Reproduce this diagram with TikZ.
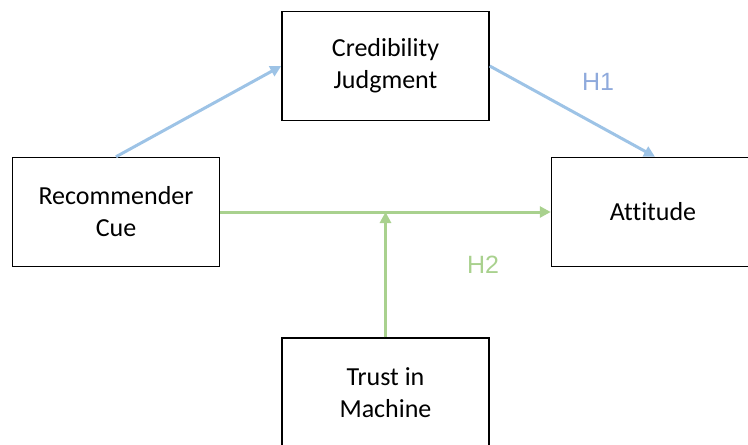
\documentclass[tikz,border=0pt]{standalone}
\usepackage{fontspec}
\setmainfont[Ligatures={NoCommon}]{Carlito}
\newfontfamily\arialfont{Liberation Sans}
\usetikzlibrary{arrows.meta}
\definecolor{arrowblue}{HTML}{9DC3E6}
\definecolor{labelblue}{HTML}{8FAADC}
\definecolor{arrowgreen}{HTML}{A9D18E}
\tikzset{
  box/.style={draw=black, line width=1.5pt, fill=white, minimum width=207pt,
    minimum height=109pt, align=center, inner sep=0pt,
    font=\fontsize{26}{32}\selectfont},
  bluearrow/.style={draw=arrowblue, line width=3pt,
    -{Triangle[length=11pt,width=11pt]}},
  greenarrow/.style={draw=arrowgreen, line width=3pt,
    -{Triangle[length=11pt,width=11pt]}},
  hlabel/.style={font=\arialfont\fontsize{25}{30}\selectfont, inner sep=0pt}
}
\begin{document}
\begin{tikzpicture}[x=1pt, y=-1pt]
\useasboundingbox (0,0) rectangle (748,445);
\clip (0,0) rectangle (748,445);
\node[box] (cj) at (385.5,66) {Credibility\\Judgment};
\node[box] (rc) at (116,212) {Recommender\\Cue};
\node[box] (att) at (655,212) {\hspace*{-4pt}Attitude};
\node[box] (tm) at (385.5,392.5) {Trust in\\Machine};
\coordinate (junc) at (tm.north |- rc.east);
\draw[bluearrow] (rc.north) -- (cj.west);
\draw[bluearrow] (cj.east) -- (att.north);
\draw[greenarrow] (rc.east) -- (att.west);
\draw[greenarrow] (tm.north) -- (junc);
\node[hlabel, text=labelblue] (h1) at (598,81.5) {H1};
\node[hlabel, text=arrowgreen] (h2) at (483,265) {H2};
\end{tikzpicture}
\end{document}
